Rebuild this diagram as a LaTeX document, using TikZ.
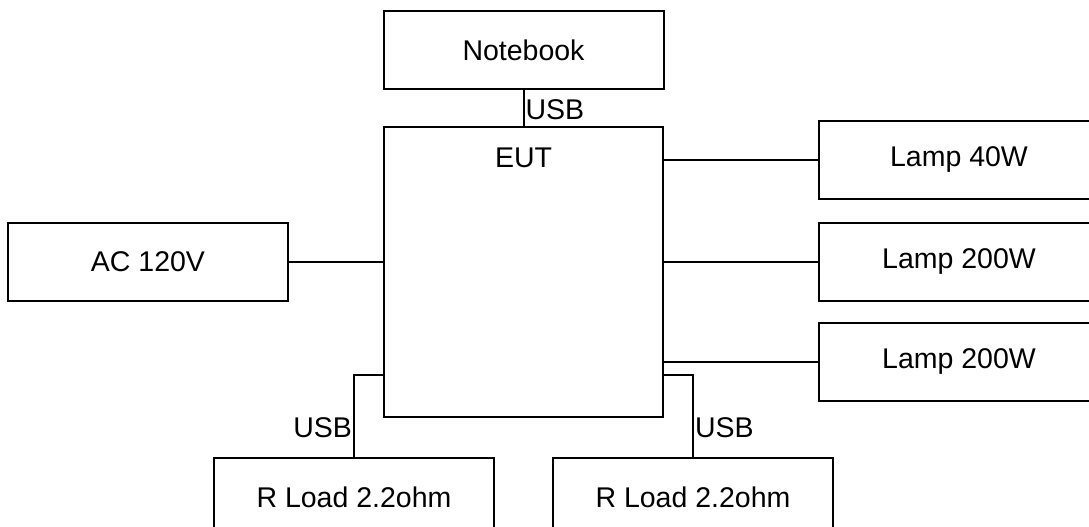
\documentclass[tikz,border=0pt]{standalone}
\usepackage{fontspec}
\setmainfont{Liberation Sans}
\usetikzlibrary{
  positioning,
  calc
}

\begin{document}
\begin{tikzpicture}[
      x=1pt, y=-1pt,
      unit/.style={
        rectangle, draw=black, line width=2pt, fill=white,
        minimum width=280pt, minimum height=78pt, inner sep=0pt,
        font=\fontsize{28.5}{34}\selectfont, align=center
      },
      wire/.style={line width=2pt, black},
      tag/.style={font=\fontsize{28.5}{34}\selectfont, inner sep=1pt}
    ]
      \useasboundingbox (0,0) rectangle (1089,527);

      % device under test
      \node[unit, minimum width=279pt, minimum height=290pt,
            label={[tag, anchor=north, yshift=-21pt]north:EUT}] (eut) at (523.5,272) {};
      \node[unit, above=36pt of eut] (notebook) {Notebook};
      \node[unit, left=94pt of eut, yshift=10.5pt] (ac) {AC 120V};

      % lamp loads
      \node[unit, right=154pt of eut, yshift=10pt] (lampb) {Lamp 200W};
      \node[unit, above=22pt of lampb] (lampa) {Lamp 40W};
      \node[unit, below=20pt of lampb] (lampc) {Lamp 200W};

      % resistive loads
      \node[unit, below=39pt of eut, xshift=-169.5pt] (rloada) {R Load 2.2ohm};
      \node[unit, below=39pt of eut, xshift=169.5pt] (rloadb) {R Load 2.2ohm};

      \coordinate (usbl) at ($(eut.south west)+(0,-43)$);
      \coordinate (usbr) at ($(eut.south east)+(0,-43)$);

      \draw[wire] (notebook.south) -- node[tag, right, pos=0.55] {USB} (eut.north);
      \draw[wire] (ac.east) -- (ac.east -| eut.west);
      \draw[wire] (lampa.west -| eut.east) -- (lampa.west);
      \draw[wire] (lampb.west -| eut.east) -- (lampb.west);
      \draw[wire] (lampc.west -| eut.east) -- (lampc.west);
      \draw[wire] (usbl) -| node[tag, left, pos=0.82] {USB} (rloada.north);
      \draw[wire] (usbr) -| node[tag, right, pos=0.82] {USB} (rloadb.north);
    \end{tikzpicture}
\end{document}
